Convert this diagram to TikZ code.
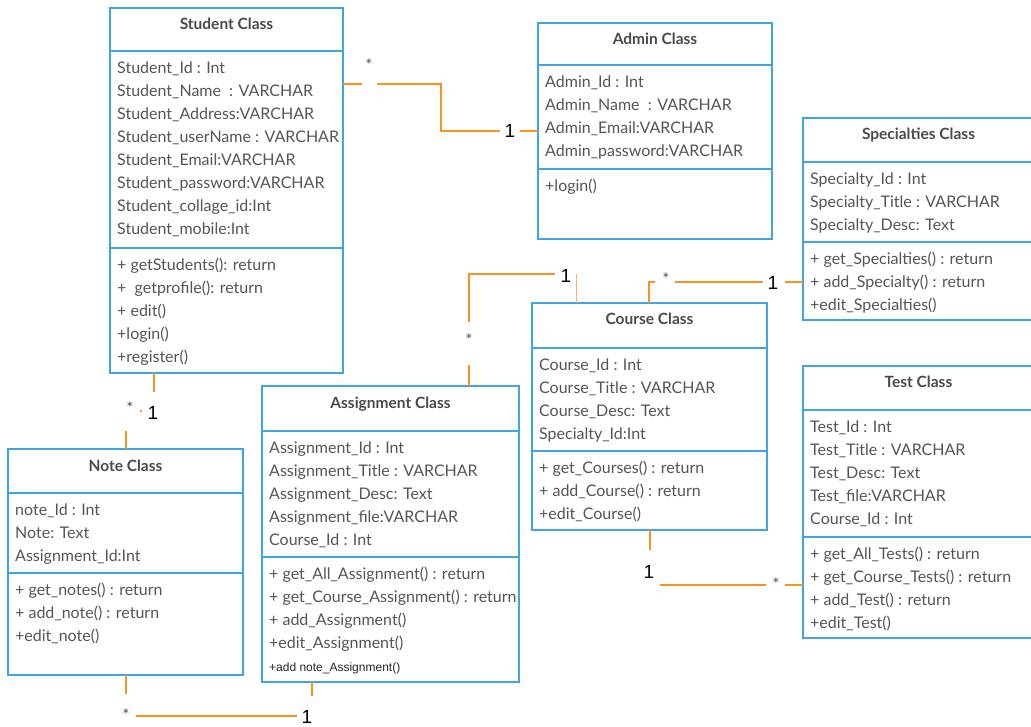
\documentclass[tikz,border=0pt]{standalone}
\usepackage{fontspec}
\setmainfont{Lato}
\newfontfamily\arialfont{Liberation Sans}
\definecolor{boxblue}{HTML}{3FA4E3}
\definecolor{linkorange}{HTML}{F7931E}
\definecolor{txtgray}{HTML}{555555}
\definecolor{titlegray}{HTML}{4A4A4A}
% invisible strut that fixes the height of the first text line
\newcommand\lead{\rule{0pt}{17pt}}
% one UML class: name, x1, y1, x2, y2, first and second separator, title, attributes
\newcommand\umlclass[9]{%
  \node[classbox, minimum width=#4-#2, minimum height=#5-#3] (#1) at (#2,#3) {};
  \draw[sepline] (#2,#6) -- (#4,#6);
  \draw[sepline] (#2,#7) -- (#4,#7);
  \node[titletext] (#1-title) at ({(#2+#4)/2},#3+22) {#8};
  \node[membertext] (#1-attrs) at (#2+7,#6+5) {\lead #9};
}
\begin{document}
\begin{tikzpicture}[x=1pt,y=-1pt,
  classbox/.style={draw=boxblue, line width=2.6pt, fill=white, inner sep=0pt,
    outer sep=0pt, anchor=north west},
  sepline/.style={draw=boxblue, line width=2.6pt},
  titletext/.style={anchor=base, inner sep=0pt, text=titlegray,
    font=\fontsize{15.5}{18}\selectfont\bfseries},
  membertext/.style={anchor=north west, inner sep=0pt, align=left, text=txtgray,
    font=\fontsize{16}{23}\selectfont},
  assoc/.style={draw=linkorange, line width=2.8pt},
  thinlink/.style={draw=linkorange!70, line width=1pt},
  star/.style={anchor=base, inner sep=0pt, text=txtgray, font=\fontsize{17}{17}\selectfont},
  one/.style={anchor=base, inner sep=0pt, text=black, font=\arialfont\fontsize{19}{19}\selectfont}]
\useasboundingbox (0,0) rectangle (1031,727);

% ---------- classes ----------
\umlclass{student}{110}{8}{343}{373}{51}{248}{Student Class}
  {Student\_Id : Int\\Student\_Name~ : VARCHAR\\Student\_Address:VARCHAR\\
   Student\_userName : VARCHAR\\Student\_Email:VARCHAR\\Student\_password:VARCHAR\\
   Student\_collage\_id:Int\\Student\_mobile:Int}
\node[membertext] (student-ops) at (117,253) {\lead + getStudents(): return\\
  +~~getprofile(): return\\+ edit()\\+login()\\+register()};

\umlclass{admin}{538}{23}{772}{239}{65}{169}{Admin Class}
  {Admin\_Id : Int\\Admin\_Name~ : VARCHAR\\Admin\_Email:VARCHAR\\Admin\_password:VARCHAR}
\node[membertext] (admin-ops) at (545,174) {\lead +login()};

\umlclass{specialties}{803}{118}{1034}{320}{162}{242}{Specialties Class}
  {Specialty\_Id : Int\\Specialty\_Title : VARCHAR\\Specialty\_Desc: Text}
\node[membertext] (specialties-ops) at (810,247) {\lead + get\_Specialties() : return\\
  + add\_Specialty() : return\\+edit\_Specialties()};

\umlclass{course}{532}{303}{767}{530}{348}{451}{Course Class}
  {Course\_Id : Int\\Course\_Title : VARCHAR\\Course\_Desc: Text\\Specialty\_Id:Int}
\node[membertext] (course-ops) at (539,456) {\lead + get\_Courses() : return\\
  + add\_Course() : return\\+edit\_Course()};

\umlclass{test}{803}{366}{1034}{638}{410}{537}{Test Class}
  {Test\_Id : Int\\Test\_Title : VARCHAR\\Test\_Desc: Text\\Test\_file:VARCHAR\\Course\_Id : Int}
\node[membertext] (test-ops) at (810,542) {\lead + get\_All\_Tests() : return\\
  + get\_Course\_Tests() : return\\+ add\_Test() : return\\+edit\_Test()};

\umlclass{assignment}{262}{386}{519}{682}{431}{557}{Assignment Class}
  {Assignment\_Id : Int\\Assignment\_Title : VARCHAR\\Assignment\_Desc: Text\\
   Assignment\_file:VARCHAR\\Course\_Id : Int}
\node[membertext] (assignment-ops) at (269,562) {\lead + get\_All\_Assignment() : return\\
  + get\_Course\_Assignment() : return\\+ add\_Assignment()\\+edit\_Assignment()\\
  {\arialfont\fontsize{12}{23}\selectfont\color{black!85}+add note\_Assignment()}};

\umlclass{note}{8}{449}{243}{675}{493}{573}{Note Class}
  {note\_Id : Int\\Note: Text\\Assignment\_Id:Int}
\node[membertext] (note-ops) at (15,578) {\lead + get\_notes() : return\\
  + add\_note() : return\\+edit\_note()};

% ---------- associations ----------
% Student -- Admin
\coordinate (sa1) at (362,84);
\coordinate (sa2) at (377,84);
\coordinate (sa3) at (520,131);
\draw[assoc] (student.east |- sa1) -- (sa1);
\node[star] (sa-many) at (369,72) {*};
\draw[assoc] (sa2) -- (441,84) -- (441,131) -- (500,131);
\node[one] (sa-one) at (510,138) {1};
\draw[assoc] (sa3) -- (admin.west |- sa3);

% Student -- Note
\coordinate (sn1) at (154,392);
\coordinate (sn2) at (126,431);
\draw[assoc] (student.south -| sn1) -- (sn1);
\node[star] (sn-many) at (130,414) {*};
\draw[assoc, line width=1.8pt] (140.2,411) -- (141.8,411);
\node[one] (sn-one) at (153,419) {1};
\draw[assoc] (sn2) -- (note.north -| sn2);

% Note -- Assignment
\coordinate (na1) at (126,694);
\coordinate (na2) at (312,696);
\draw[assoc] (note.south -| na1) -- (na1);
\node[star] (na-many) at (126,721) {*};
\draw[assoc] (136,716) -- (297,716);
\node[one] (na-one) at (307,723) {1};
\draw[assoc] (na2) -- (assignment.south -| na2);

% Assignment -- Course
\coordinate (ac1) at (469,365);
\coordinate (ac2) at (576,274);
\draw[assoc] (assignment.north -| ac1) -- (ac1);
\node[star] (ac-many) at (469,347) {*};
\draw[assoc] (469,322) -- (469,274) -- (555,274);
\node[one] (ac-one) at (566,283) {1};
\draw[thinlink] (ac2) -- (course.north -| ac2);

% Course -- Specialties
\coordinate (cs1) at (649,282);
\coordinate (cs2) at (785,282);
\draw[assoc] (course.north -| cs1) -- (cs1) -- (655,282);
\node[star] (cs-many) at (666,286) {*};
\draw[assoc] (675,282) -- (763,282);
\node[one] (cs-one) at (773,290) {1};
\draw[assoc] (cs2) -- (specialties.west |- cs2);

% Course -- Test
\coordinate (ct1) at (650,550);
\coordinate (ct2) at (785,585);
\draw[assoc] (course.south -| ct1) -- (ct1);
\node[one] (ct-one) at (649,578) {1};
\draw[assoc] (660,585) -- (766,585);
\node[star] (ct-many) at (776,590) {*};
\draw[assoc] (ct2) -- (test.west |- ct2);
\end{tikzpicture}
\end{document}
